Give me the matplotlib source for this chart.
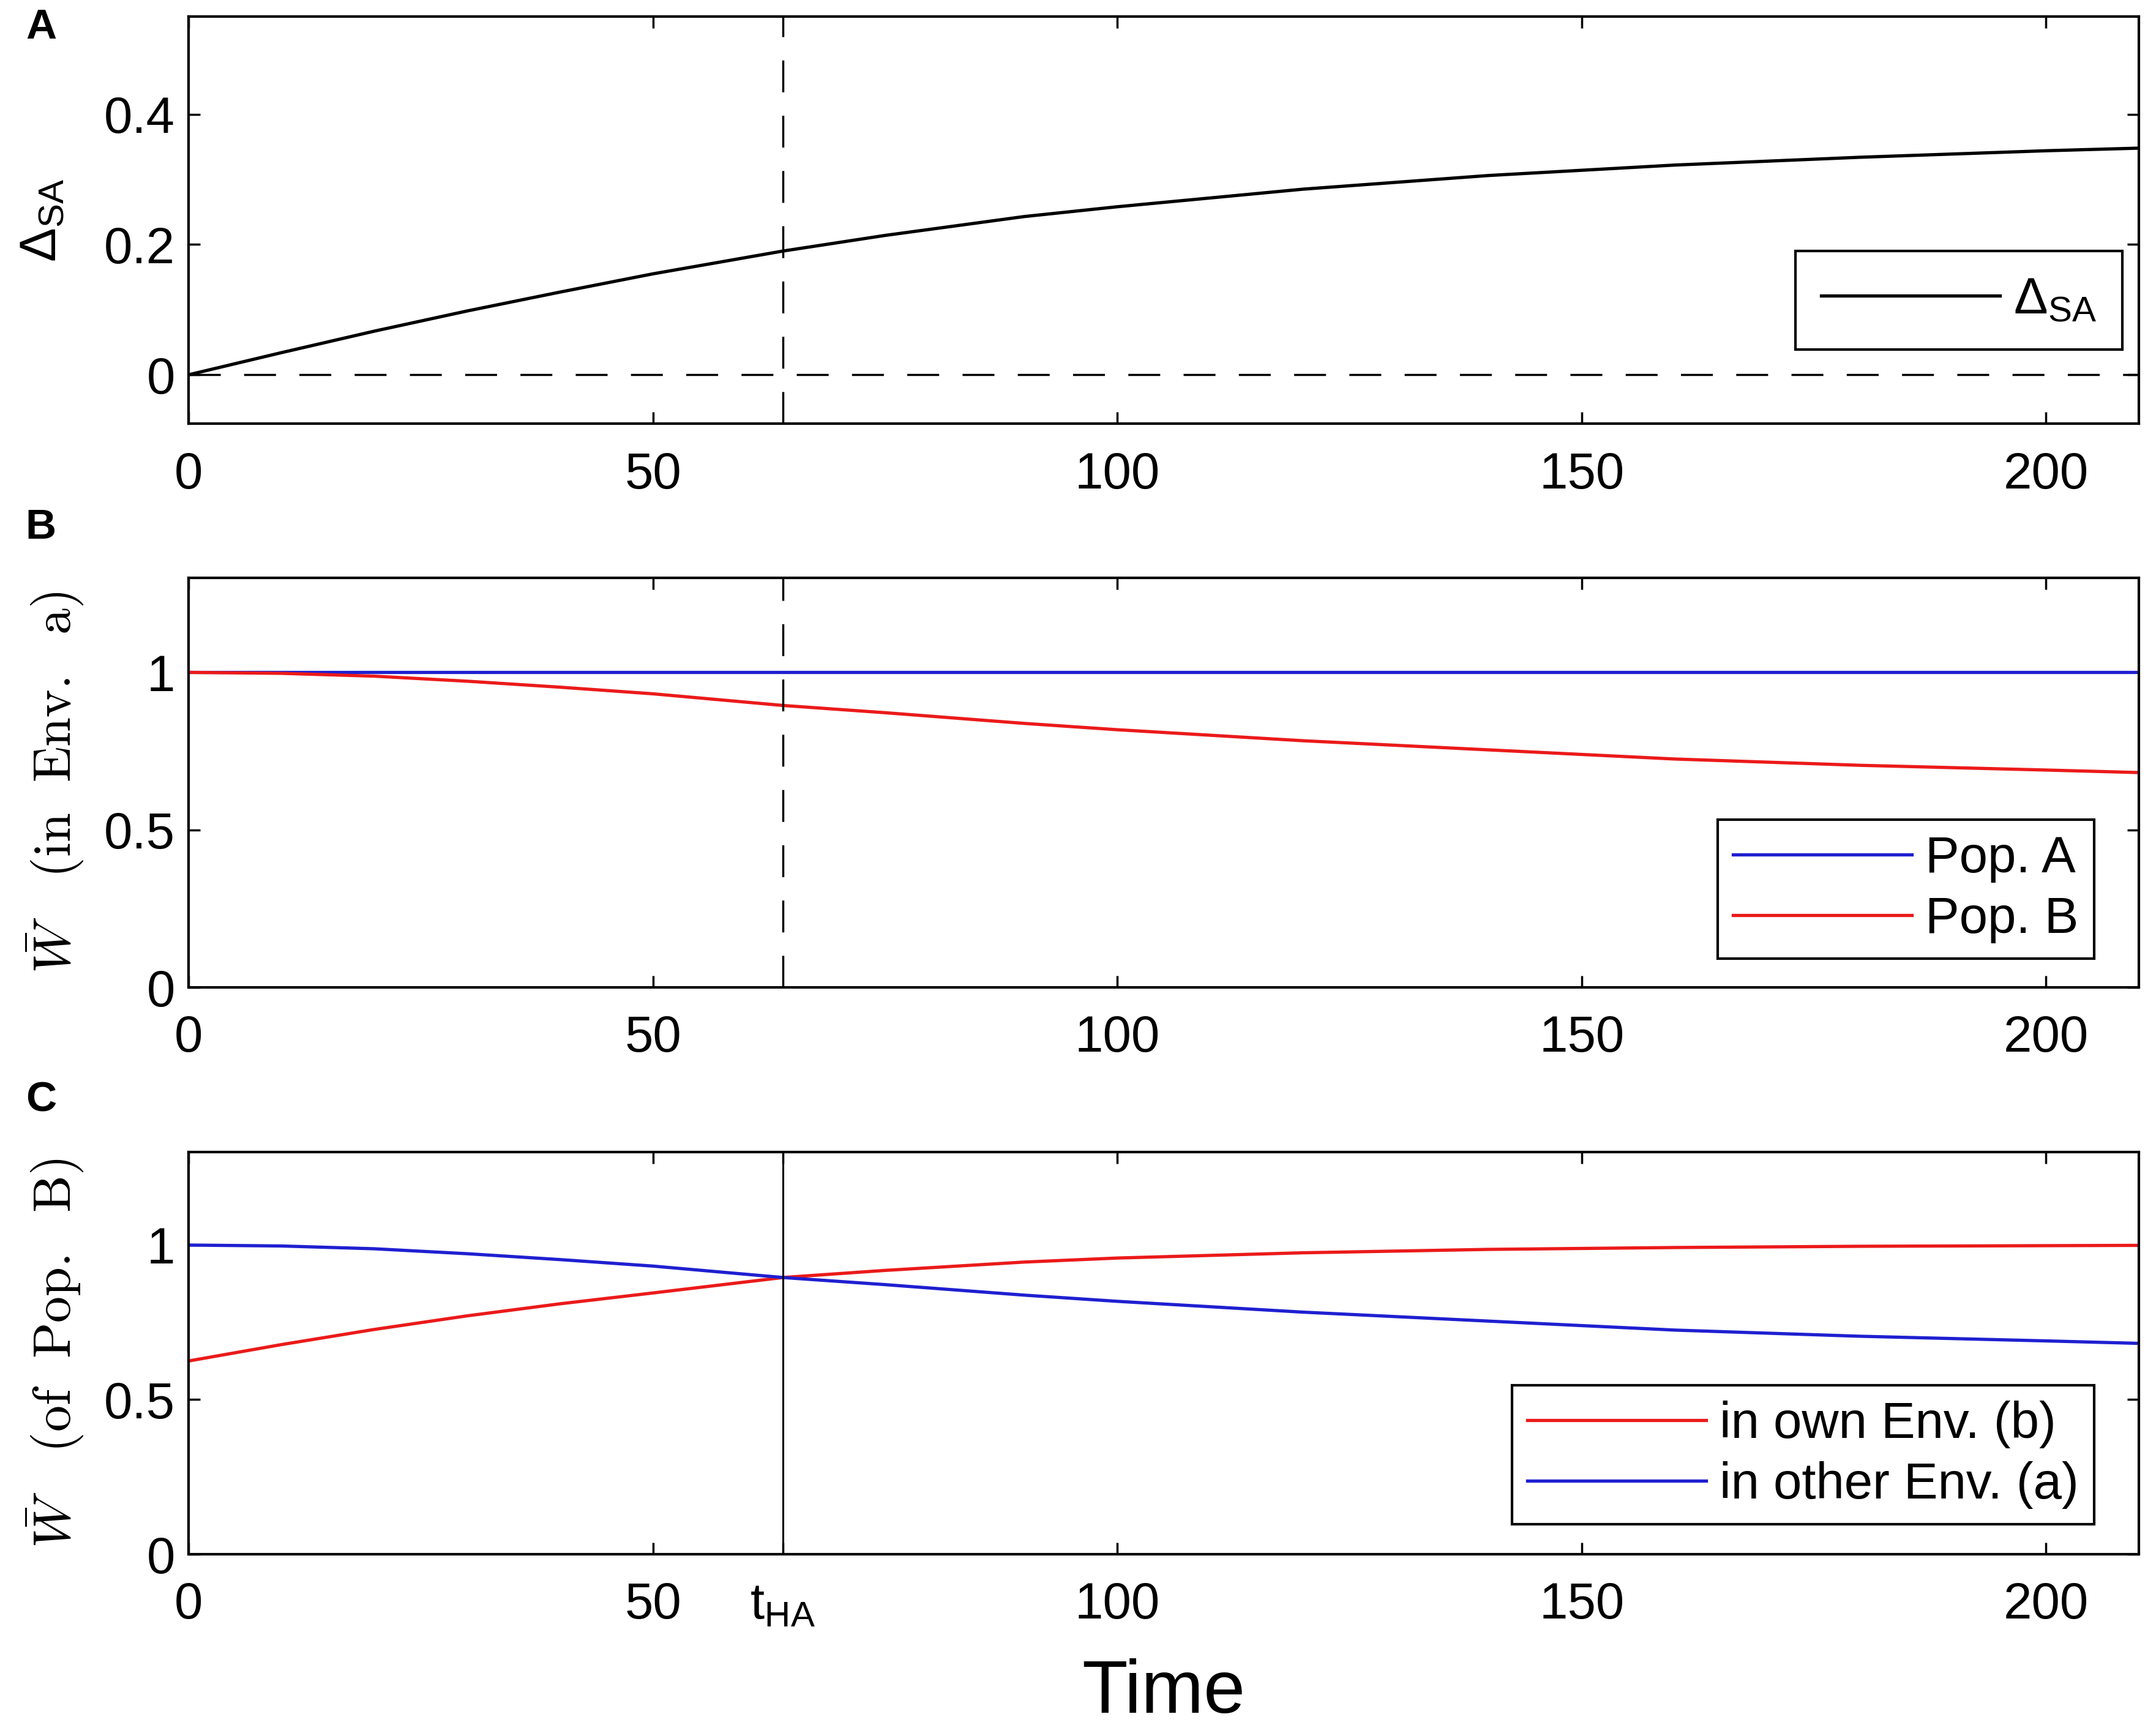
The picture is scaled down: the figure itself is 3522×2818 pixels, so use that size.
import numpy as np
import matplotlib
matplotlib.use('Agg')
from matplotlib import pyplot as plt

plt.rcParams['font.family'] = ['Liberation Sans', 'DejaVu Sans']

# values
t = [0, 10, 20, 30, 40, 50, 64, 75, 90, 100, 120, 140, 160, 180, 200, 210]
delta_sa = [0, 0.034, 0.067, 0.098, 0.127, 0.155, 0.19, 0.214, 0.243, 0.258,
            0.285, 0.306, 0.322, 0.334, 0.344, 0.348]
popB_env_a = [1.0, 0.997, 0.988, 0.972, 0.953, 0.932, 0.895, 0.872, 0.838, 0.818,
              0.783, 0.754, 0.725, 0.705, 0.69, 0.682]
popB_env_b = [0.625, 0.678, 0.727, 0.771, 0.81, 0.845, 0.895, 0.918, 0.945, 0.958,
              0.975, 0.986, 0.992, 0.996, 0.998, 0.999]
t_popA = [0, 210]
popA_env_a = [1.0, 1.0]
t_ha = 64

blue = (0.12, 0.12, 0.82)
red = (0.92, 0.1, 0.1)
fs = 60

fig = plt.figure(figsize=(35.23, 28.18), dpi=100)
left, width = 0.0874, 0.9044
ax1 = fig.add_axes([left, 0.7544, width, 0.236])
ax2 = fig.add_axes([left, 0.4276, width, 0.2374])
ax3 = fig.add_axes([left, 0.099, width, 0.233])

def style(ax):
    ax.set_xlim(0, 210)
    ax.set_xticks([0, 50, 100, 150, 200])
    ax.tick_params(direction='in', top=True, right=True, length=14, width=2.5,
                   labelsize=fs)
    ax.tick_params(axis='x', pad=32)
    ax.tick_params(axis='y', pad=16)
    for s in ax.spines.values():
        s.set_linewidth(3)

def legend(ax, anchor, bpad=0.3):
    lg = ax.legend(loc='lower right', bbox_to_anchor=anchor, borderaxespad=0,
                   fontsize=fs, handlelength=3.5, fancybox=False, framealpha=1,
                   edgecolor='black', handletextpad=0.27, labelspacing=0.25,
                   borderpad=bpad)
    lg.get_frame().set_linewidth(3)

# A
style(ax1)
ax1.plot(t, delta_sa, color='black', lw=3.8, label=r'$\mathregular{\Delta_{SA}}$')
ax1.axhline(0, color='black', lw=2.5, dashes=(15, 11))
ax1.axvline(t_ha, color='black', lw=2.5, dashes=(15, 11))
ax1.set_ylim(-0.075, 0.55)
ax1.set_yticks([0, 0.2, 0.4])
ax1.set_yticklabels(['0', '0.2', '0.4'])
ax1.set_ylabel(r'$\mathregular{\Delta_{SA}}$', fontsize=fs, labelpad=44)
legend(ax1, (0.9915, 0.182), bpad=0.5)

# B
style(ax2)
ax2.plot(t_popA, popA_env_a, color=blue, lw=3.8, label='Pop. A')
ax2.plot(t, popB_env_a, color=red, lw=3.8, label='Pop. B')
ax2.axvline(t_ha, color='black', lw=2.5, dashes=(15, 11))
ax2.set_ylim(0, 1.3)
ax2.set_yticks([0, 0.5, 1])
ax2.set_yticklabels(['0', '0.5', '1'])
ax2.set_ylabel(r'$\bar{W}\ \ \ \mathrm{(in\ \ Env.\ \ a)}$', fontsize=62,
               math_fontfamily='cm', labelpad=22)
legend(ax2, (0.977, 0.07))

# C
style(ax3)
ax3.plot(t, popB_env_b, color=red, lw=3.8, label='in own Env. (b)')
ax3.plot(t, popB_env_a, color=blue, lw=3.8, label='in other Env. (a)')
ax3.axvline(t_ha, color='black', lw=2.2)
ax3.set_ylim(0, 1.3)
ax3.set_yticks([0, 0.5, 1])
ax3.set_yticklabels(['0', '0.5', '1'])
ax3.set_xticks([0, 50, t_ha, 100, 150, 200])
ax3.set_xticklabels(['0', '50', r'$\mathregular{t_{HA}}$', '100', '150', '200'])
ax3.set_ylabel(r'$\bar{W}\ \ \ \mathrm{(of\ \ Pop.\ \ B)}$', fontsize=62,
               math_fontfamily='cm', labelpad=22)
ax3.set_xlabel('Time', fontsize=88, labelpad=34)
legend(ax3, (0.977, 0.075))

for lab, y in [('A', 0.984), ('B', 0.694), ('C', 0.362)]:
    fig.text(0.019, y, lab, fontsize=50, fontweight='bold', va='center', ha='center')

fig.savefig('out.png', dpi=100)
